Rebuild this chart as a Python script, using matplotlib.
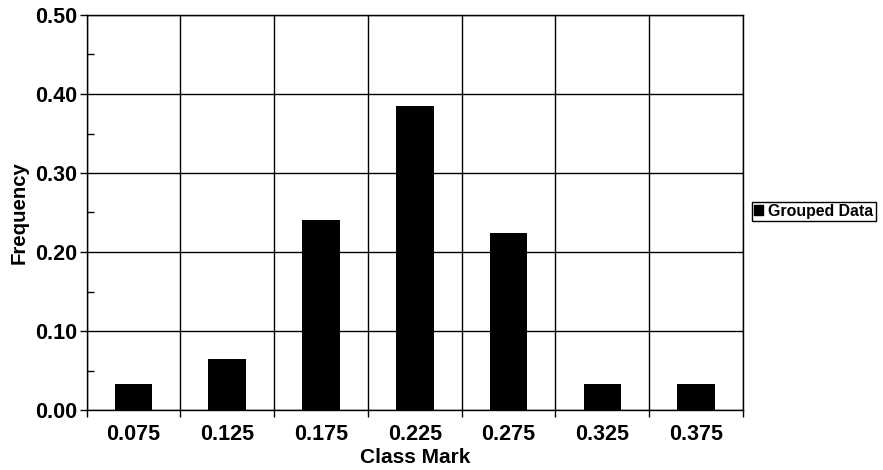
import matplotlib
matplotlib.use("Agg")
import matplotlib.pyplot as plt
from matplotlib.patches import Rectangle
import numpy as np

plt.rcParams['font.family'] = ['Liberation Sans', 'DejaVu Sans']
plt.rcParams['font.weight'] = 'bold'

class_marks = ["0.075", "0.125", "0.175", "0.225", "0.275", "0.325", "0.375"]
frequency = [0.0325, 0.065, 0.241, 0.385, 0.224, 0.0325, 0.0325]
y_ticks = [0.0, 0.1, 0.2, 0.3, 0.4, 0.5]
y_labels = ["0.00", "0.10", "0.20", "0.30", "0.40", "0.50"]

fig = plt.figure(figsize=(8.83, 4.70), dpi=100)
ax = fig.add_axes([86.5/883, 60/470, (743-86.5)/883, (410-15)/470])

x = np.arange(len(class_marks))
ax.bar(x, frequency, width=0.4, color='black', zorder=3)

ax.set_xlim(-0.5, len(class_marks) - 0.5)
ax.set_ylim(0, 0.5)

ax.set_xticks(x)
ax.set_xticklabels(class_marks, fontsize=15.5, fontweight='bold')
ax.tick_params(axis='x', which='major', length=0, pad=10)
ax.set_xticks(np.arange(-0.5, len(class_marks)), minor=True)
ax.tick_params(axis='x', which='minor', length=5, width=1.0, direction='out', color='black')

ax.set_yticks(y_ticks)
ax.set_yticklabels(y_labels, fontsize=15.5, fontweight='bold')
ax.tick_params(axis='y', which='major', length=5, width=1.0, direction='out', pad=2)
ax.set_yticks(np.arange(0.05, 0.5, 0.1), minor=True)
ax.tick_params(axis='y', which='minor', length=5, width=1.0, direction='in')

ax.grid(True, axis='y', which='major', color='black', linewidth=1.0, zorder=1)
ax.grid(True, axis='x', which='minor', color='black', linewidth=1.0, zorder=1)
ax.set_axisbelow(True)
for s in ax.spines.values():
    s.set_linewidth(1.0)
    s.set_color('black')

ax.set_xlabel("Class Mark", fontsize=15, fontweight='bold', labelpad=2)
ax.set_ylabel("Frequency", fontsize=14.7, fontweight='bold', labelpad=4)

handle = Rectangle((0, 0), 1, 1, facecolor='black', edgecolor='black')
leg = fig.legend([handle], ["Grouped Data"], loc='center left',
                 bbox_to_anchor=(751.5/883, 1 - 211.5/470),
                 prop={'weight': 'bold', 'size': 11.4},
                 handlelength=0.6, handleheight=0.6, handletextpad=0.3,
                 borderpad=0.15, borderaxespad=0, fancybox=False,
                 frameon=True, edgecolor='black', framealpha=1)
leg.get_frame().set_linewidth(1.0)

fig.savefig("out.png", dpi=100)
